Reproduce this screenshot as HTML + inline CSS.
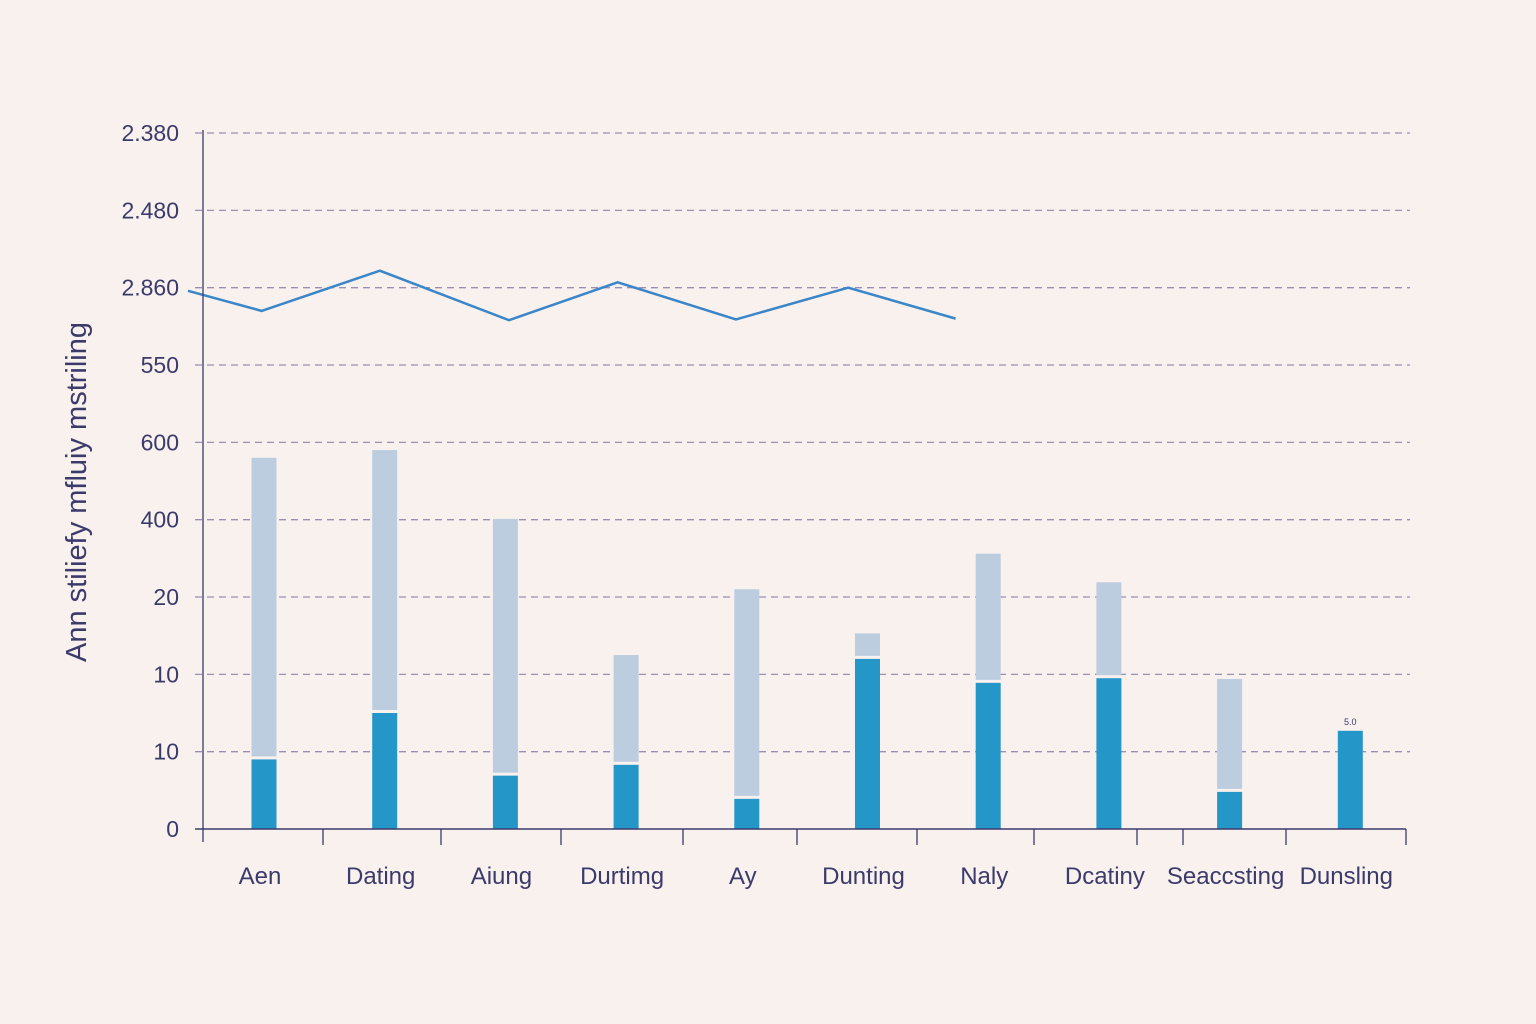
<!DOCTYPE html>
<html><head><meta charset="utf-8"><style>
html,body{margin:0;padding:0;background:#f8f1ee;}
svg{display:block;font-family:"Liberation Sans",sans-serif;}
</style></head><body>
<svg id="chart" width="1536" height="1024" viewBox="0 0 1536 1024">
<rect width="1536" height="1024" fill="#f8f1ee"/>
<g id="grid"></g><g id="bars"></g><g id="line"></g><g id="axes"></g>
<text transform="translate(86,492) rotate(-90)" text-anchor="middle" font-size="29" fill="#3b3a6b">Ann stiliefy mfluiy mstriling</text>
</svg>
<script>
const categories = ["Aen","Dating","Aiung","Durtimg","Ay","Dunting","Naly","Dcatiny","Seaccsting","Dunsling"];
const baseValues = [0.9,1.5,0.69,0.83,0.39,2.2,1.89,1.95,0.48,1.27];
const totalValues = [4.8,4.9,4.01,2.25,3.1,2.53,3.56,3.19,1.94,1.27];
const tickLabels = ["0","10","10","20","400","600","550","2.860","2.480","2.380"];
const lineCatPos = [-0.63,-0.02,0.96,2.03,2.93,3.91,4.84,5.73];
const lineValues = [6.96,6.70,7.22,6.58,7.07,6.59,7.00,6.60];
const lastBarLabel = "5.0";

const NS="http://www.w3.org/2000/svg";
const y0=829, unit=77.33;
const yScale=v=>y0-v*unit;
const xScale=i=>264+i*120.7;
function mk(tag,attrs,parent,text){const e=document.createElementNS(NS,tag);for(const k in attrs)e.setAttribute(k,attrs[k]);if(text!==undefined)e.textContent=text;parent.appendChild(e);return e;}
const grid=document.getElementById('grid'),bars=document.getElementById('bars'),line=document.getElementById('line'),axes=document.getElementById('axes');

tickLabels.forEach((t,i)=>{
  const y=yScale(i);
  if(i>0){const g=mk('line',{x1:195,x2:1410,y1:y,y2:y,stroke:'#9b8fb3','stroke-width':1.3,'stroke-dasharray':'7 5'},grid);
  
  }
  const tx=mk('text',{x:179,y:y+8,'text-anchor':'end','font-size':23,fill:'#3b3a6b'},axes,t);
  
  
});

categories.forEach((c,i)=>{
  const cx=xScale(i),w=25;
  if(totalValues[i]>baseValues[i]+0.01){
    const r=mk('rect',{x:cx-w/2,y:yScale(totalValues[i]),width:w,height:yScale(baseValues[i])-yScale(totalValues[i])-3,fill:'#bccde0'},bars);
    
    
  }
  const b=mk('rect',{x:cx-w/2,y:yScale(baseValues[i]),width:w,height:y0-yScale(baseValues[i]),fill:'#2596c8'},bars);
  
  
  const lb=mk('text',{x:cx-4,y:876+8,'text-anchor':'middle','font-size':24,fill:'#3b3a6b'},axes,c);
  
  
});
const li=categories.length-1;
const bl=mk('text',{x:xScale(li),y:yScale(baseValues[li])-6,'text-anchor':'middle','font-size':9,fill:'#3b3a6b'},bars,lastBarLabel);



const pts=lineCatPos.map((p,k)=>xScale(p)+','+yScale(lineValues[k])).join(' ');
const pl=mk('polyline',{points:pts,fill:'none',stroke:'#3a86c8','stroke-width':2.5,'stroke-linejoin':'miter'},line);



const ya=mk('line',{x1:203,x2:203,y1:130,y2:842,stroke:'#3b3a6b','stroke-width':1.3},axes);


const xa=mk('line',{x1:195,x2:1406,y1:y0,y2:y0,stroke:'#3b3a6b','stroke-width':1.5},axes);


[323,441,561,683,797,917,1034,1137,1183,1286,1406].forEach(x=>{
  const t=mk('line',{x1:x,x2:x,y1:y0,y2:845,stroke:'#3b3a6b','stroke-width':1.3},axes);
  
  
});
</script>
</body></html>
